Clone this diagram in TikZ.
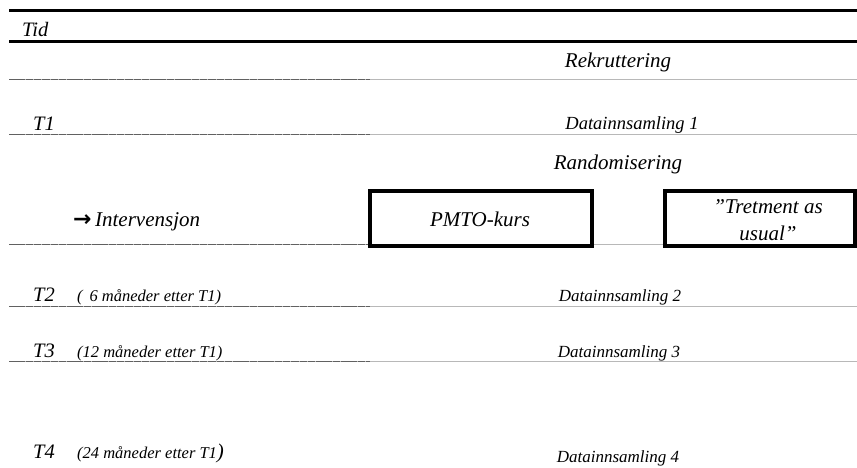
\documentclass[tikz,border=0pt]{standalone}
\usepackage{fontspec}
\setmainfont{Liberation Serif}
\newfontfamily\arrowfont{DejaVu Sans}
\begin{document}
\begin{tikzpicture}[x=1pt,y=-1pt,
  big/.style={font=\fontsize{21}{27}\selectfont\itshape, inner sep=0pt},
  tlab/.style={font=\fontsize{20.5}{24}\selectfont\itshape, inner sep=0pt, anchor=base west},
  small/.style={font=\fontsize{16.5}{20}\selectfont\itshape, inner sep=0pt, anchor=base west},
  datalab/.style={font=\fontsize{17}{20}\selectfont\itshape, inner sep=0pt, anchor=base},
  thickrule/.style={line width=2.6pt, black},
  lightrule/.style={line width=1pt, black!28},
  darkrule/.style={line width=1pt, black!62, dash pattern=on 7.5pt off 0.8pt},
  box/.style={draw, line width=4pt, inner sep=0pt}]
\useasboundingbox (0,0) rectangle (857,467);

% coordinates for rules
\foreach \n/\y in {a/10.5, b/41.7} {
  \coordinate (\n L) at (9,\y);
  \coordinate (\n R) at (857,\y);
  \draw[thickrule] (\n L) -- (\n R);
}
\foreach \n/\y in {r1/79, r2/134, r3/244.5, r4/306, r5/361} {
  \coordinate (\n L) at (9,\y);
  \coordinate (\n M) at (370,\y);
  \coordinate (\n R) at (857,\y);
  \draw[lightrule] (\n L) -- (\n R);
  \draw[darkrule] (\n L) -- (\n M);
}

% boxes
\node[box, minimum width=222pt, minimum height=55pt] (pmto) at (481,218.5) {};
\node[box, minimum width=190pt, minimum height=55pt] (tau) at (760,218.5) {};

% texts
\node[tlab] (tid) at (22,36.5) {Tid};
\node[big, anchor=base] (rekr) at (618,67) {Rekruttering};
\node[tlab] (t1) at (33,130) {T1};
\node[font=\fontsize{18.5}{22}\selectfont\itshape, inner sep=0pt, anchor=base] (d1) at (632,129.5) {Datainnsamling 1};
\node[big, anchor=base] (rand) at (618,169) {Randomisering};
\node[big, anchor=base west] (interv) at (73,226) {{\arrowfont\bfseries\fontsize{22}{24}\selectfont →}\,Intervensjon};
\node[big, anchor=base] (pmtotext) at (480,226.5) {PMTO-kurs};
\node[big, anchor=base, align=center] (tautext) at (768,240) {”Tretment as\\usual”};

\node[tlab] (t2) at (33,301) {T2};
\node[small] (t2s) at (77,301) {( \,6 måneder etter T1)};
\node[datalab] (d2) at (620,301) {Datainnsamling 2};

\node[tlab] (t3) at (33,357) {T3};
\node[small] (t3s) at (77,357) {(12 måneder etter T1)};
\node[datalab] (d3) at (619,357) {Datainnsamling 3};

\node[tlab] (t4) at (33,458) {T4};
\node[small] (t4s) at (77,458) {(24 måneder etter T1{\fontsize{21}{24}\selectfont)}};
\node[datalab] (d4) at (618,462) {Datainnsamling 4};
\end{tikzpicture}
\end{document}
